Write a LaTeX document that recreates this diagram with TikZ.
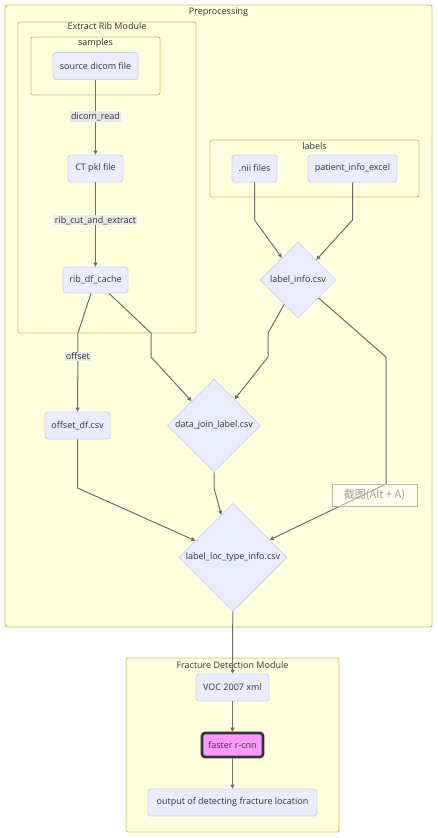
\documentclass[tikz,border=0pt]{standalone}
\usepackage{fontspec}
\setmainfont{Open Sans}
\newfontfamily\cjkfont{Noto Sans CJK SC}
\usetikzlibrary{shapes.geometric,arrows.meta}
\definecolor{clfill}{HTML}{FFFFDE}
\definecolor{clbord}{HTML}{C8C860}
\definecolor{ndfill}{HTML}{ECECFF}
\definecolor{ndbord}{HTML}{D0D0F5}
\definecolor{txt}{HTML}{333333}
\definecolor{edgecol}{HTML}{6E6E6E}
\definecolor{elbg}{HTML}{E8E8E8}
\definecolor{pinkfill}{HTML}{FF99FF}
\tikzset{
  cluster/.style={draw=clbord, fill=clfill, rounded corners=2pt, line width=0.9pt},
  ctitle/.style={font=\fontsize{9}{10}\selectfont, text=txt, inner sep=0pt},
  box/.style={draw=ndbord, fill=ndfill, rounded corners=3pt, line width=0.8pt, text=txt,
    font=\fontsize{9}{10}\selectfont, inner sep=0pt, minimum height=27pt},
  dia/.style={diamond, aspect=1, draw=ndbord, fill=ndfill, line width=0.8pt, inner sep=0pt,
    text=txt, font=\fontsize{9}{10}\selectfont},
  edge/.style={draw=edgecol, line width=1pt, -{Triangle[length=4pt,width=4pt]}},
  elabel/.style={fill=elbg, inner sep=1pt, text=txt, font=\fontsize{9}{10}\selectfont},
  hot/.style={box, fill=pinkfill, draw=txt, line width=2.6pt},
  shot/.style={draw=gray!55, fill=white, fill opacity=0.45, text opacity=1, text=gray!75,
    font=\cjkfont\fontsize{11}{12}\selectfont, inner sep=0pt, minimum width=85pt, minimum height=22pt}
}
\begin{document}
\begin{tikzpicture}[x=1pt,y=-1pt]
\useasboundingbox (0,0) rectangle (437,838);
% clusters
\draw[cluster] (5,5) rectangle (432,627);
\node[ctitle] (tpre) at (218.5,12) {Preprocessing};
\draw[cluster] (18,22) rectangle (196,333);
\node[ctitle] (trib) at (107,26.5) {Extract Rib Module};
\draw[cluster] (31,37) rectangle (160,95);
\node[ctitle] (tsam) at (95.5,43) {samples};
\draw[cluster] (210,140) rectangle (419,197);
\node[ctitle] (tlab) at (314.5,146) {labels};
\draw[cluster] (126,658) rectangle (339,832);
\node[ctitle] (tfra) at (232.5,665) {Fracture Detection Module};
% nodes
\node[box, minimum width=85pt] (src) at (95.5,66) {source dicom file};
\node[box, minimum width=55pt] (ct) at (95.5,168.5) {CT pkl file};
\node[box, minimum width=65pt, minimum height=26pt] (rib) at (95.5,280) {rib\_df\_cache};
\node[box, minimum width=65pt] (off) at (77.5,425.5) {offset\_df.csv};
\node[box, minimum width=45pt] (nii) at (254.5,168.5) {.nii files};
\node[box, minimum width=89pt] (pat) at (352.5,168.5) {patient\_info\_excel};
\node[dia, minimum width=76pt, minimum height=76pt] (li) at (298,280) {label\_info.csv};
\node[dia, minimum width=93pt, minimum height=93pt] (dj) at (214,425.5) {data\_join\_label.csv};
\node[dia, minimum width=108pt, minimum height=108pt] (llt) at (233,557.5) {label\_loc\_type\_info.csv};
\node[box, minimum width=73pt] (voc) at (232.5,687.5) {VOC 2007 xml};
\node[hot, minimum width=61pt, minimum height=24pt] (frc) at (232.5,745) {faster r-cnn};
\node[box, minimum width=169pt] (out) at (232.5,802.5) {output of detecting fracture location};
% edges
\draw[edge] (src) -- node[elabel, pos=0.49] {dicom\_read} (ct);
\draw[edge] (ct) -- node[elabel, pos=0.45] {rib\_cut\_and\_extract} (rib);
\draw[edge] ([xshift=-4.5pt]rib.south) -- (78,333) -- node[elabel, pos=0.3] {offset} (off);
\draw[edge] ([xshift=13.5pt]rib.south) -- (151,333) -- (151,357) -- (dj);
\draw[edge] (nii) -- (254.5,220) -- (li);
\draw[edge] (pat) -- (352.5,220) -- (li);
\draw[edge] (li) -- (268,333) -- (268,357) -- (dj);
\draw[edge] (li) -- (386,357) -- (386,484) -- (llt);
\draw[edge] (dj) -- (214,488) -- (llt);
\draw[edge] (off) -- (77.5,488) -- (llt);
\draw[edge] (llt) -- (voc);
\draw[edge] (voc) -- (frc);
\draw[edge] (frc) -- (out);
% screenshot overlay
\node[shot] (shot) at (374.5,495) {截图(Alt + A)};
\end{tikzpicture}
\end{document}
